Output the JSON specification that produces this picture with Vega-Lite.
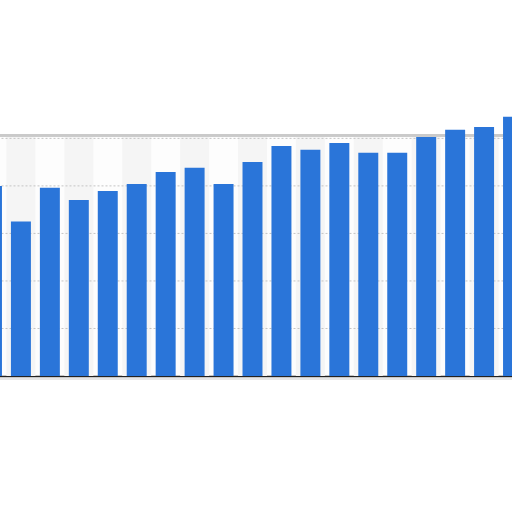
{
  "$schema": "https://vega.github.io/schema/vega-lite/v6.json",
  "autosize": {"type": "none"},
  "width": 550,
  "height": 240,
  "padding": {"left": -22.5, "right": -15.5, "top": 136, "bottom": 136},
  "background": "white",
  "data": {
    "values": [
      {"year": "2000", "value": 80.0},
      {"year": "2001", "value": 65.0},
      {"year": "2002", "value": 79.2},
      {"year": "2003", "value": 74.1},
      {"year": "2004", "value": 77.9},
      {"year": "2005", "value": 80.8},
      {"year": "2006", "value": 85.9},
      {"year": "2007", "value": 87.6},
      {"year": "2008", "value": 80.8},
      {"year": "2009", "value": 90.1},
      {"year": "2010", "value": 96.8},
      {"year": "2011", "value": 95.2},
      {"year": "2012", "value": 98.1},
      {"year": "2013", "value": 93.9},
      {"year": "2014", "value": 93.9},
      {"year": "2015", "value": 100.6},
      {"year": "2016", "value": 103.6},
      {"year": "2017", "value": 104.8},
      {"year": "2018", "value": 109.1}
    ]
  },
  "layer": [
    {
      "transform": [
        {"filter": {"field": "year", "oneOf": ["2001", "2003", "2005", "2007", "2009", "2011", "2013", "2015", "2017"]}}
      ],
      "mark": {"type": "bar", "color": "#f5f5f5", "width": 29},
      "encoding": {
        "x": {
          "field": "year",
          "type": "ordinal",
          "scale": {"paddingInner": 0.31, "paddingOuter": 0.155},
          "axis": {"labels": false, "ticks": false, "title": null, "domainColor": "#222222", "domainWidth": 1.5}
        },
        "y": {
          "datum": 101,
          "type": "quantitative",
          "scale": {"domain": [0, 101], "nice": false},
          "axis": null
        }
      }
    },
    {
      "data": {"values": [{"tick": 20}, {"tick": 40}, {"tick": 60}, {"tick": 80}, {"tick": 100}]},
      "mark": {"type": "rule", "color": "#c4c4c4", "strokeDash": [2, 2], "strokeWidth": 1},
      "encoding": {"y": {"field": "tick", "type": "quantitative"}}
    },
    {
      "mark": {"type": "rule", "color": "#cacaca", "strokeWidth": 2},
      "encoding": {"y": {"datum": 101.3}}
    },
    {
      "mark": {"type": "bar", "color": "#2a75d9", "clip": false},
      "encoding": {
        "x": {"field": "year", "type": "ordinal"},
        "y": {"field": "value", "type": "quantitative"}
      }
    },
    {
      "mark": {"type": "rule", "color": "#e6e6e6", "strokeWidth": 1.5},
      "encoding": {"y": {"datum": -1.3}}
    }
  ],
  "config": {"view": {"stroke": null, "fill": "#fdfdfd"}}
}
